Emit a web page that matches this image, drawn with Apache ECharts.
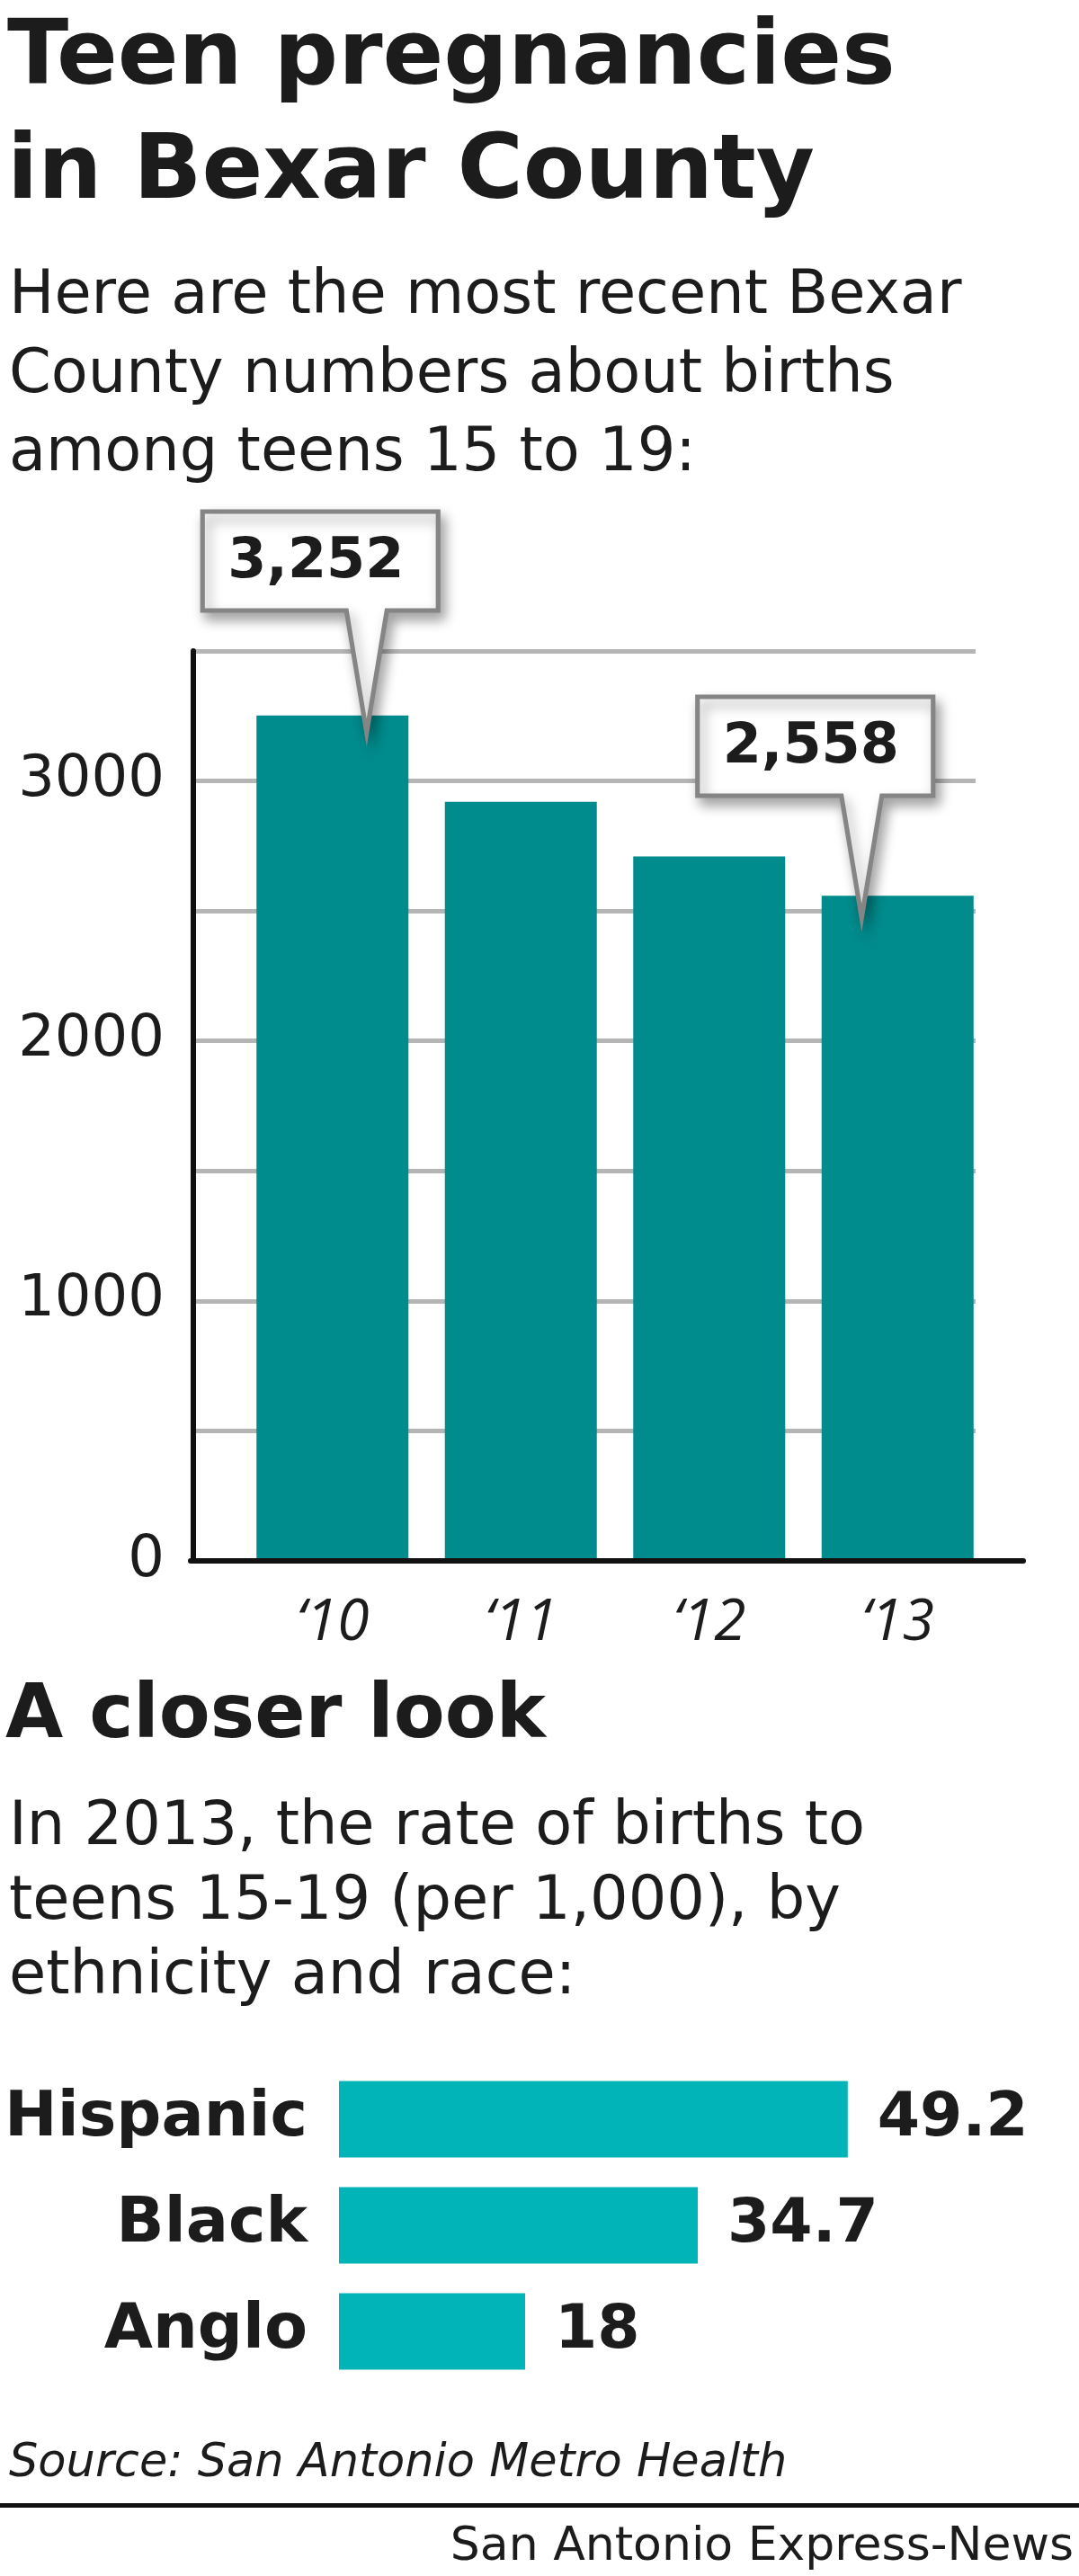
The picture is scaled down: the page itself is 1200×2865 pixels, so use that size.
<!DOCTYPE html>
<html>
<head>
<meta charset="utf-8">
<script src="https://cdn.jsdelivr.net/npm/echarts@6/dist/echarts.min.js"></script>
<style>
  html, body { margin: 0; padding: 0; background: #fff; }
  #chart { width: 1200px; height: 2865px; }
</style>
</head>
<body>
<div id="chart"></div>
<script>
// ---- data ----
const years = ['\u201810', '\u201811', '\u201812', '\u201813'];
const births = [3252, 2920, 2710, 2558];
const yMax = 3500;
const yStep = 500;
const labeledTicks = [0, 1000, 2000, 3000];
const calloutYears = ['\u201810', '\u201813'];
const calloutValues = [3252, 2558];
const calloutTexts = ['3,252', '2,558'];

const groups = ['Hispanic', 'Black', 'Anglo'];
const rates = [49.2, 34.7, 18];

// ---- styles ----
const HEAD = "'DejaVu Sans', 'Noto Sans', sans-serif";
const BODY = "'DejaVu Sans', 'Noto Sans', sans-serif";
const ITAL = "'Open Sans', 'Noto Sans', sans-serif";
const INK = '#1c1c1c';
const BODY_W = 'normal';

const calloutOffsets = [[-13.5, -103.7], [-91.5, -98.4]];

const chart = echarts.init(document.getElementById('chart'), null, { renderer: 'canvas' });

const option = {
  backgroundColor: '#ffffff',
  animation: false,
  title: [
    { text: 'Teen pregnancies\nin Bexar County', left: 8, top: 4, padding: 0,
      textStyle: { fontFamily: HEAD, fontWeight: 'bold', fontSize: 100, lineHeight: 127, color: INK } },
    { text: 'Here are the most recent Bexar\nCounty numbers about births\namong teens 15 to 19:', left: 10, top: 287, padding: 0,
      textStyle: { fontFamily: BODY, fontWeight: BODY_W, fontSize: 67, lineHeight: 87.5, color: INK } },
    { text: 'A closer look', left: 6, top: 1869, padding: 0,
      textStyle: { fontFamily: HEAD, fontWeight: 'bold', fontSize: 83, lineHeight: 83, color: INK } },
    { text: 'In 2013, the rate of births to\nteens 15-19 (per 1,000), by\nethnicity and race:', left: 10, top: 1992, padding: 0,
      textStyle: { fontFamily: BODY, fontWeight: BODY_W, fontSize: 67, lineHeight: 83, color: INK } },
    { text: 'Source: San Antonio Metro Health', left: 10, top: 2715, padding: 0,
      textStyle: { fontFamily: BODY, fontWeight: BODY_W, fontStyle: 'italic', fontSize: 51, lineHeight: 51, color: INK } },
    { text: 'San Antonio Express-News', right: 6, top: 2807, padding: 0,
      textStyle: { fontFamily: BODY, fontWeight: BODY_W, fontSize: 52, lineHeight: 52, color: INK } }
  ],
  graphic: [
    { type: 'rect', shape: { x: 0, y: 2784, width: 1200, height: 5 }, style: { fill: '#111' } }
  ],
  grid: [
    { left: 215, right: 115, top: 724, bottom: 1129 },
    { left: 265, right: 97, top: 724, bottom: 1129 },
    { left: 212, right: 62, top: 724, bottom: 1129 },
    { left: 377, right: 133, top: 2298, bottom: 213 }
  ],
  xAxis: [
    { gridIndex: 0, type: 'value', min: 0, max: 1, show: false },
    { gridIndex: 1, type: 'category', data: years,
      axisLine: { show: false }, axisTick: { show: false },
      axisLabel: { fontFamily: ITAL, fontWeight: 'normal', fontStyle: 'italic', fontSize: 64, color: INK, margin: 38 } },
    { gridIndex: 2, type: 'value', min: 0, max: 1, z: 5,
      axisLine: { show: true, lineStyle: { color: '#111', width: 6 } },
      axisTick: { show: false }, axisLabel: { show: false }, splitLine: { show: false } },
    { gridIndex: 3, type: 'value', min: 0, max: 60, show: false }
  ],
  yAxis: [
    { gridIndex: 0, type: 'value', min: 0, max: yMax, interval: yStep,
      axisLine: { show: true, lineStyle: { color: '#111', width: 6 } },
      axisTick: { show: false },
      splitLine: { show: true, lineStyle: { color: '#b5b5b5', width: 5 } },
      axisLabel: { formatter: v => labeledTicks.includes(v) ? String(v) : '',
        fontFamily: BODY, fontWeight: BODY_W, fontSize: 64, color: INK, margin: 32 } },
    { gridIndex: 1, type: 'value', min: 0, max: yMax, show: false },
    { gridIndex: 2, type: 'value', min: 0, max: yMax, show: false },
    { gridIndex: 3, type: 'category', data: groups, inverse: true,
      axisLine: { show: false }, axisTick: { show: false },
      axisLabel: { fontFamily: HEAD, fontWeight: 'bold', fontSize: 70, color: INK, margin: 35,
        padding: [0, 0, 22, 0] } }
  ],
  series: [
    {
      type: 'bar', xAxisIndex: 1, yAxisIndex: 1, data: births, barWidth: 169,
      itemStyle: { color: '#008b8c' },
      markPoint: {
        symbol: 'path://M0,0L262,0L262,110L205,110L182.5,246L160,110L0,110Z',
        symbolSize: [262, 246],
        itemStyle: { color: '#ffffff', borderColor: '#858585', borderWidth: 5,
          shadowBlur: 14, shadowColor: 'rgba(0,0,0,0.35)', shadowOffsetX: 5, shadowOffsetY: 8 },
        label: { show: true, formatter: '{b}', fontFamily: HEAD, fontWeight: 'bold', fontSize: 62, color: INK },
        data: calloutYears.map((y, i) => ({
          name: calloutTexts[i],
          coord: [y, calloutValues[i]],
          symbolOffset: calloutOffsets[i],
          label: { offset: [-5, -66] }
        }))
      }
    },
    {
      type: 'bar', xAxisIndex: 3, yAxisIndex: 3, data: rates, barWidth: 85,
      itemStyle: { color: '#00b4b8' },
      label: { show: true, position: 'right', distance: 33, formatter: '{c}',
        fontFamily: HEAD, fontWeight: 'bold', fontSize: 68, color: INK }
    }
  ]
};

chart.setOption(option);
</script>
</body>
</html>
